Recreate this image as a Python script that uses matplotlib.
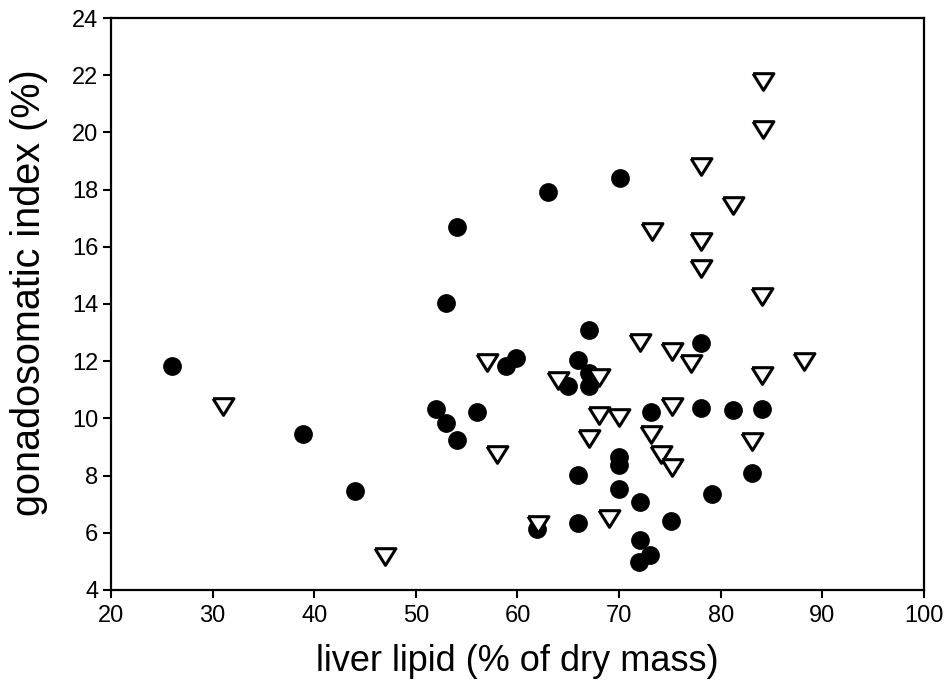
import numpy as np
from matplotlib import pyplot as plt

plt.rcParams['font.family'] = ['Liberation Sans', 'DejaVu Sans']

# filled circles
circ_x = [26.0, 38.9, 44.0, 52.0, 53.0, 54.0, 56.0, 53.0, 54.0, 63.0, 70.1,
          67.0, 78.1, 59.9, 58.9, 66.0, 67.0, 65.0, 67.0, 73.1, 78.1, 81.2,
          84.1, 70.0, 70.0, 66.0, 83.1, 70.0, 79.1, 72.1, 61.9, 66.0, 75.1,
          72.1, 73.0, 72.0]
circ_y = [11.84, 9.45, 7.46, 10.32, 9.85, 9.24, 10.24, 14.05, 16.68, 17.93, 18.42,
          13.08, 12.63, 12.12, 11.82, 12.05, 11.6, 11.12, 11.12, 10.22, 10.37, 10.3,
          10.33, 8.64, 8.36, 8.02, 8.08, 7.52, 7.36, 7.06, 6.14, 6.33, 6.4,
          5.75, 5.24, 4.97]

# open triangles
tri_x = [31.0, 47.0, 57.0, 58.0, 62.0, 64.0, 67.0, 68.0, 68.0, 69.0, 70.0,
         72.1, 73.1, 73.2, 74.1, 75.2, 75.2, 75.2, 77.1, 78.1, 78.1, 78.1,
         81.2, 83.1, 84.1, 84.1, 84.2, 84.2, 88.2]
tri_y = [10.45, 5.18, 11.96, 8.76, 6.3, 11.35, 9.32, 11.46, 10.12, 6.52, 10.04,
         12.66, 9.46, 16.55, 8.76, 12.37, 10.45, 8.29, 11.93, 18.82, 16.22, 15.26,
         17.47, 9.22, 14.27, 11.53, 21.79, 20.12, 12.02]

fig = plt.figure(figsize=(9.47, 6.95), dpi=100)
ax = fig.add_axes([0.1172, 0.1511, 0.8585, 0.823])

ax.plot(circ_x, circ_y, linestyle='none', marker='o', markersize=12.5,
        markerfacecolor='black', markeredgecolor='black', zorder=3)
tri_marker = [(-1, 0.75), (1, 0.75), (0, -0.85), (-1, 0.75)]
ax.plot(tri_x, tri_y, linestyle='none', marker=tri_marker, markersize=15,
        markerfacecolor='white', markeredgecolor='black', markeredgewidth=2.2,
        zorder=4)

ax.set_xlim(20, 100)
ax.set_ylim(4, 24)
ax.set_xticks(np.arange(20, 101, 10))
ax.set_yticks(np.arange(4, 25, 2))
ax.tick_params(direction='out', length=6, width=1.5, labelsize=17)
ax.tick_params(axis='x', pad=5)
ax.tick_params(axis='y', pad=3)
for sp in ax.spines.values():
    sp.set_linewidth(1.6)

ax.set_xlabel("liver lipid (% of dry mass)", fontsize=26, labelpad=12)
ax.set_ylabel("gonadosomatic index (%)", fontsize=28.5)
ax.yaxis.set_label_coords(-0.077, 0.52)

fig.savefig("out.png", dpi=100)
